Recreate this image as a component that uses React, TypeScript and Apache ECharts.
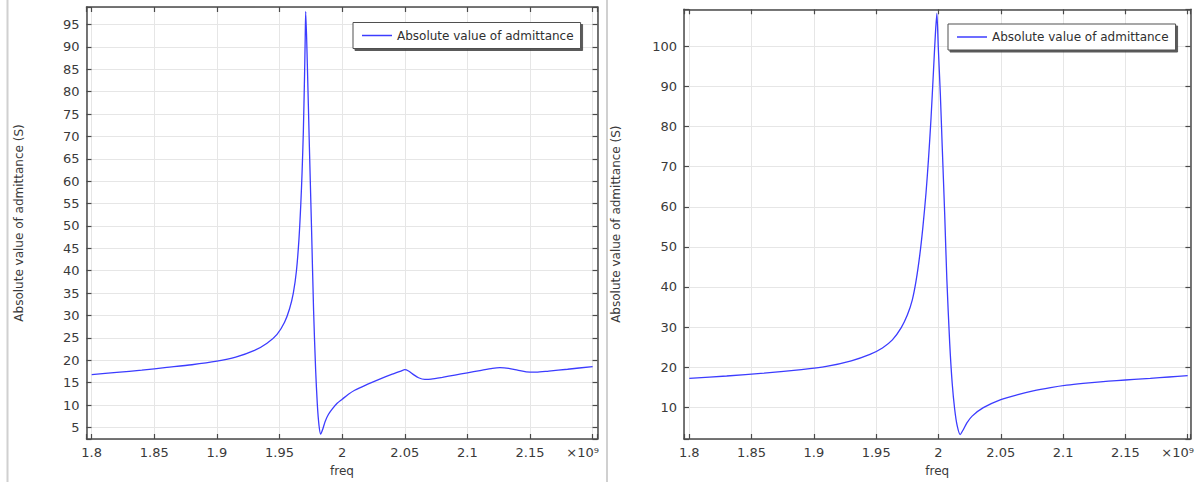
import React, { useEffect, useRef } from "react";
import * as echarts from "echarts";

// Sweep frequencies (units of 1e9 Hz) and |Y| in siemens, first resonator
const freqLeft = [
  1.8, 1.82, 1.84, 1.86, 1.88, 1.9, 1.915, 1.93, 1.94, 1.948, 1.954, 1.958,
  1.961, 1.9635, 1.9655, 1.967, 1.968, 1.969, 1.97, 1.9705, 1.9709, 1.9722,
  1.9738, 1.9755, 1.9772, 1.9788, 1.9802, 1.9815, 1.9828, 1.9845, 1.9865,
  1.989, 1.992, 1.996, 2.0, 2.005, 2.01, 2.02, 2.03, 2.04, 2.047, 2.05, 2.053,
  2.057, 2.061, 2.066, 2.071, 2.08, 2.09, 2.1, 2.11, 2.12, 2.126, 2.133, 2.14,
  2.147, 2.155, 2.165, 2.18, 2.2,
];
const admLeft = [
  16.8, 17.3, 17.8, 18.4, 19.0, 19.8, 20.7, 22.2, 23.8, 25.8, 28.5, 31.5, 35,
  40, 47, 55, 62, 71, 84, 92, 97.9, 86, 68, 50, 31, 18, 10, 5.5, 3.5, 4.6, 6.4,
  7.9, 9.1, 10.4, 11.3, 12.4, 13.3, 14.6, 15.8, 16.9, 17.6, 17.9, 17.6, 16.8,
  16.1, 15.75, 15.8, 16.2, 16.7, 17.2, 17.7, 18.2, 18.35, 18.2, 17.8, 17.4,
  17.35, 17.6, 18.0, 18.6,
];

// Second resonator
const freqRight = [
  1.8, 1.83, 1.86, 1.89, 1.91, 1.93, 1.945, 1.955, 1.963, 1.97, 1.975, 1.979,
  1.982, 1.985, 1.9875, 1.99, 1.992, 1.994, 1.996, 1.9975, 1.9987, 1.9998,
  2.0015, 2.003, 2.005, 2.0067, 2.009, 2.011, 2.013, 2.015, 2.0174, 2.0195,
  2.0228, 2.027, 2.036, 2.05, 2.063, 2.076, 2.09, 2.103, 2.116, 2.13, 2.143,
  2.157, 2.17, 2.185, 2.2,
];
const admRight = [
  17.2, 17.8, 18.5, 19.4, 20.2, 21.6, 23.2, 24.8, 26.8, 29.8, 33, 36.8, 41.5,
  48, 55, 63.5, 72, 82, 94, 103, 108.2, 100, 88, 75, 58, 42, 26, 16, 9.5, 5.4,
  3.2, 4.2, 6.1, 7.8, 9.9, 11.9, 13.1, 14.1, 14.9, 15.5, 15.95, 16.35, 16.65,
  16.95, 17.2, 17.55, 17.9,
];

// Axis extents and tick steps
const xExtentLeft = [1.79585, 2.2039];
const yExtentLeft = [2.42, 98.9];
const xExtentRight = [1.79575, 2.2022];
const yExtentRight = [2.09, 109.25];
const xStep = 0.05;
const yStepLeft = 5;
const yStepRight = 10;

const seriesName = "Absolute value of admittance";
const yTitle = "Absolute value of admittance (S)";
const xTitle = "freq";
const xLastLabel = "×10⁹";
const lastTick = 2.2;

const FONT = "DejaVu Sans";
const AXIS_COLOR = "#4a4a4a";
const GRID_COLOR = "#e6e6e6";
const LINE_COLOR = "#3c3cff";
const TEXT_COLOR = "#3a3a3a";

const onStep = (v: number, step: number) => {
  const k = v / step;
  return Math.abs(k - Math.round(k)) < 1e-6;
};

const fmt = (v: number) => String(parseFloat(v.toFixed(4)));

function xAxes(gridIndex: number, ext: number[]) {
  const common = {
    type: "value",
    gridIndex,
    min: ext[0],
    max: ext[1],
    splitNumber: 8,
    minInterval: xStep,
    maxInterval: xStep,
    axisLine: { show: true, onZero: false, lineStyle: { color: AXIS_COLOR, width: 1.5 } },
    axisTick: { show: true, inside: true, length: 5, lineStyle: { color: AXIS_COLOR, width: 1.2 } },
  };
  return [
    {
      ...common,
      position: "bottom",
      name: xTitle,
      nameLocation: "middle",
      nameGap: 26,
      nameTextStyle: { fontFamily: FONT, fontSize: 12, color: TEXT_COLOR },
      splitLine: { show: true, lineStyle: { color: GRID_COLOR, width: 1 } },
      axisLabel: {
        interval: 0,
        margin: 7,
        fontFamily: FONT,
        fontSize: 13,
        color: TEXT_COLOR,
        formatter: (v: number) => {
          if (!onStep(v, xStep)) return "";
          if (Math.abs(v - lastTick) < 1e-6) return "{e|" + xLastLabel + "}";
          return fmt(v);
        },
        rich: {
          e: { fontFamily: FONT, fontSize: 13, color: TEXT_COLOR, padding: [0, 20, 0, 0] },
        },
      },
    },
    {
      ...common,
      position: "top",
      splitLine: { show: false },
      axisLabel: { show: false },
    },
  ];
}

function yAxes(gridIndex: number, ext: number[], step: number, splitNumber: number) {
  const common = {
    type: "value",
    gridIndex,
    min: ext[0],
    max: ext[1],
    splitNumber,
    minInterval: step,
    maxInterval: step,
    axisLine: { show: true, onZero: false, lineStyle: { color: AXIS_COLOR, width: 1.5 } },
    axisTick: { show: true, inside: true, length: 5, lineStyle: { color: AXIS_COLOR, width: 1.2 } },
  };
  return [
    {
      ...common,
      position: "left",
      name: yTitle,
      nameLocation: "middle",
      nameGap: 62,
      nameTextStyle: { fontFamily: FONT, fontSize: 12, color: TEXT_COLOR },
      splitLine: { show: true, lineStyle: { color: GRID_COLOR, width: 1 } },
      axisLabel: {
        interval: 0,
        margin: 7,
        fontFamily: FONT,
        fontSize: 13,
        color: TEXT_COLOR,
        formatter: (v: number) => (onStep(v, step) ? fmt(v) : ""),
      },
    },
    {
      ...common,
      position: "right",
      splitLine: { show: false },
      axisLabel: { show: false },
    },
  ];
}

function legendAt(left: number, top: number) {
  return {
    left,
    top,
    orient: "horizontal",
    data: [seriesName],
    icon: "rect",
    itemWidth: 30,
    itemHeight: 1.5,
    backgroundColor: "#ffffff",
    borderColor: "#505050",
    borderWidth: 1,
    borderRadius: 0,
    padding: [7, 7, 7, 9],
    shadowColor: "rgba(60,60,60,0.85)",
    shadowBlur: 0,
    shadowOffsetX: 2,
    shadowOffsetY: 2,
    selectedMode: false,
    textStyle: { fontFamily: FONT, fontSize: 12, color: "#303030" },
  };
}

function toPairs(xs: number[], ys: number[]) {
  return xs.map((x, i) => [x, ys[i]]);
}

function lineSeries(xAxisIndex: number, xs: number[], ys: number[]) {
  return {
    name: seriesName,
    type: "line",
    xAxisIndex,
    yAxisIndex: xAxisIndex,
    data: toPairs(xs, ys),
    symbol: "none",
    smooth: 0.25,
    lineStyle: { color: LINE_COLOR, width: 1.3 },
    itemStyle: { color: LINE_COLOR },
  };
}

export default function App() {
  const ref = useRef<HTMLDivElement>(null);

  useEffect(() => {
    if (!ref.current) return;
    const chart = echarts.init(ref.current, undefined, { renderer: "svg" });
    chart.setOption({
      animation: false,
      backgroundColor: "#ffffff",
      textStyle: { fontFamily: FONT },
      grid: [
        { left: 86.5, top: 7, width: 511, height: 438, containLabel: false },
        { left: 684, top: 9.3, width: 506.5, height: 433.4, containLabel: false },
      ],
      xAxis: [...xAxes(0, xExtentLeft), ...xAxes(1, xExtentRight)],
      yAxis: [...yAxes(0, yExtentLeft, yStepLeft, 19), ...yAxes(1, yExtentRight, yStepRight, 11)],
      legend: [legendAt(353, 22.5), legendAt(948, 24)],
      series: [
        lineSeries(0, freqLeft, admLeft),
        lineSeries(2, freqRight, admRight),
      ],
      graphic: [
        {
          type: "line",
          shape: { x1: 7.5, y1: 0, x2: 7.5, y2: 482 },
          style: { stroke: "#d0d0d0", lineWidth: 2 },
        },
        {
          type: "line",
          shape: { x1: 607, y1: 0, x2: 607, y2: 482 },
          style: { stroke: "#d0d0d0", lineWidth: 2 },
        },
      ],
    });
    return () => chart.dispose();
  }, []);

  return (
    <div
      ref={ref}
      style={{ position: "absolute", left: 0, top: 0, width: 1197, height: 482 }}
    />
  );
}
